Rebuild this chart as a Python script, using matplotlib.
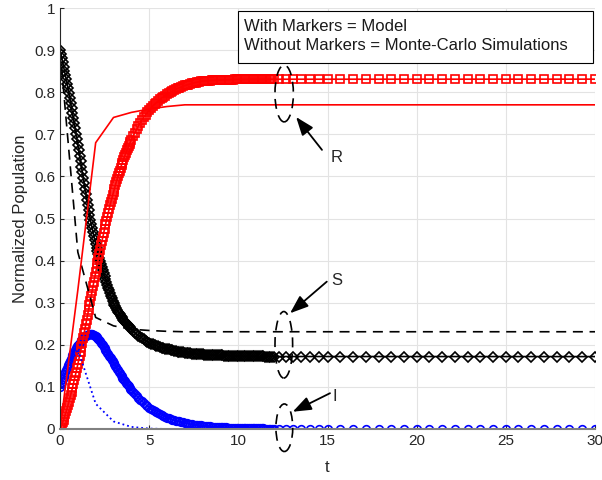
import numpy as np
import matplotlib.pyplot as plt
from matplotlib.patches import Ellipse, Rectangle

plt.rcParams['font.family'] = ['Liberation Sans', 'DejaVu Sans']

# model (solver output): small steps early, larger ones once it settles
t_a = [0.0, 0.05, 0.1, 0.15, 0.2, 0.25, 0.3, 0.35, 0.4, 0.45,
       0.5, 0.55, 0.6, 0.65, 0.7, 0.75, 0.8, 0.85, 0.9, 0.95,
       1.0, 1.05, 1.1, 1.15, 1.2, 1.25, 1.3, 1.35, 1.4, 1.45,
       1.5, 1.55, 1.6, 1.65, 1.7, 1.75, 1.8, 1.85, 1.9, 1.95,
       2.0, 2.05, 2.1, 2.15, 2.2, 2.25, 2.3, 2.35, 2.4, 2.45,
       2.5, 2.55, 2.6, 2.65, 2.7, 2.75, 2.8, 2.85, 2.9, 2.95,
       3.0, 3.05, 3.1, 3.15, 3.2, 3.25, 3.3, 3.35, 3.4, 3.45,
       3.5, 3.55, 3.6, 3.65, 3.7, 3.75, 3.8, 3.85, 3.9, 3.95,
       4.0]
t_b = [4.1, 4.2, 4.3, 4.4, 4.5, 4.6, 4.7, 4.8, 4.9, 5.0,
       5.1, 5.2, 5.3, 5.4, 5.5, 5.6, 5.7, 5.8, 5.9, 6.0,
       6.1, 6.2, 6.3, 6.4, 6.5, 6.6, 6.7, 6.8, 6.9, 7.0,
       7.1, 7.2, 7.3, 7.4, 7.5, 7.6, 7.7, 7.8, 7.9, 8.0,
       8.1, 8.2, 8.3, 8.4, 8.5, 8.6, 8.7, 8.8, 8.9, 9.0,
       9.1, 9.2, 9.3, 9.4, 9.5, 9.6, 9.7, 9.8, 9.9, 10.0,
       10.1, 10.2, 10.3, 10.4, 10.5, 10.6, 10.7, 10.8, 10.9, 11.0,
       11.1, 11.2, 11.3, 11.4, 11.5, 11.6, 11.7, 11.8, 11.9, 12.0]
t_c = [12.3, 12.65, 13.05, 13.5, 14.0, 14.5, 15.0, 15.71, 16.43, 17.14,
       17.86, 18.57, 19.29, 20.0, 20.71, 21.43, 22.14, 22.86, 23.57, 24.29,
       25.0, 25.71, 26.43, 27.14, 27.86, 28.57, 29.29, 30.0]

s_a = [0.900, 0.891, 0.881, 0.871, 0.861, 0.851, 0.841, 0.831, 0.820, 0.809,
       0.797, 0.786, 0.774, 0.762, 0.750, 0.738, 0.726, 0.714, 0.701, 0.688,
       0.675, 0.662, 0.649, 0.636, 0.623, 0.610, 0.597, 0.584, 0.571, 0.558,
       0.545, 0.533, 0.521, 0.509, 0.497, 0.487, 0.477, 0.467, 0.458, 0.449,
       0.440, 0.431, 0.423, 0.415, 0.407, 0.399, 0.391, 0.384, 0.377, 0.370,
       0.363, 0.356, 0.349, 0.342, 0.336, 0.329, 0.323, 0.317, 0.311, 0.305,
       0.300, 0.295, 0.291, 0.287, 0.283, 0.279, 0.276, 0.272, 0.269, 0.266,
       0.263, 0.260, 0.257, 0.254, 0.252, 0.249, 0.247, 0.244, 0.242, 0.239,
       0.237]
s_b = [0.233, 0.229, 0.225, 0.222, 0.219, 0.216, 0.213, 0.210, 0.207, 0.205,
       0.203, 0.201, 0.1995, 0.198, 0.1965, 0.195, 0.1935, 0.192, 0.191, 0.190,
       0.189, 0.188, 0.187, 0.186, 0.185, 0.184, 0.1835, 0.183, 0.182, 0.181,
       0.1805, 0.180, 0.1795, 0.179, 0.1785, 0.178, 0.1778, 0.1775, 0.1772, 0.177,
       0.1767, 0.1765, 0.1762, 0.176, 0.1757, 0.1755, 0.1752, 0.175, 0.1749, 0.1747,
       0.1746, 0.1745, 0.1743, 0.1742, 0.1741, 0.174, 0.1738, 0.1735, 0.1733, 0.173,
       0.1729, 0.1729, 0.1728, 0.1728, 0.1727, 0.1727, 0.1726, 0.1726, 0.1725, 0.1725,
       0.1724, 0.1724, 0.1723, 0.1723, 0.1722, 0.1722, 0.1722, 0.1721, 0.1721, 0.1721]
s_c = [0.172] * 28

i_a = [0.100, 0.106, 0.112, 0.118, 0.124, 0.130, 0.135, 0.141, 0.146, 0.151,
       0.156, 0.161, 0.166, 0.171, 0.175, 0.180, 0.184, 0.188, 0.192, 0.196,
       0.199, 0.202, 0.205, 0.208, 0.211, 0.2135, 0.216, 0.218, 0.220, 0.2215,
       0.223, 0.224, 0.225, 0.2255, 0.226, 0.2255, 0.225, 0.224, 0.223, 0.2215,
       0.220, 0.218, 0.216, 0.2135, 0.211, 0.208, 0.205, 0.202, 0.199, 0.1955,
       0.192, 0.1885, 0.185, 0.1815, 0.178, 0.1745, 0.171, 0.1675, 0.164, 0.1605,
       0.157, 0.1535, 0.150, 0.1465, 0.143, 0.1395, 0.136, 0.1325, 0.129, 0.1255,
       0.122, 0.119, 0.116, 0.113, 0.110, 0.107, 0.104, 0.101, 0.098, 0.0955,
       0.093]
i_b = [0.088, 0.083, 0.0785, 0.074, 0.070, 0.066, 0.062, 0.058, 0.0545, 0.051,
       0.048, 0.045, 0.0425, 0.040, 0.0375, 0.035, 0.033, 0.031, 0.029, 0.027,
       0.0255, 0.024, 0.0225, 0.021, 0.020, 0.019, 0.018, 0.017, 0.016, 0.015,
       0.014, 0.013, 0.012, 0.011, 0.0105, 0.010, 0.0095, 0.009, 0.0085, 0.008,
       0.0075, 0.007, 0.0065, 0.006, 0.0057, 0.0055, 0.0052, 0.005, 0.0047, 0.0045,
       0.0042, 0.004, 0.0037, 0.0035, 0.0032, 0.003, 0.0029, 0.0027, 0.0026, 0.0025,
       0.0024, 0.0022, 0.0021, 0.002, 0.0019, 0.0018, 0.0017, 0.0016, 0.0015, 0.0015,
       0.0014, 0.0013, 0.0012, 0.0012, 0.0011, 0.001, 0.001, 0.0009, 0.0009, 0.0008]
i_c = [0.0007, 0.0006, 0.0005, 0.0004, 0.0003, 0.0003, 0.0002, 0.0002, 0.0001, 0.0001,
       0.0, 0.0, 0.0, 0.0, 0.0, 0.0, 0.0, 0.0, 0.0, 0.0,
       0.0, 0.0, 0.0, 0.0, 0.0, 0.0, 0.0, 0.0]

r_a = [0.000, 0.005, 0.011, 0.016, 0.022, 0.028, 0.035, 0.042, 0.049, 0.057,
       0.065, 0.073, 0.081, 0.089, 0.098, 0.107, 0.116, 0.125, 0.134, 0.144,
       0.154, 0.164, 0.174, 0.184, 0.195, 0.205, 0.216, 0.227, 0.238, 0.249,
       0.260, 0.271, 0.283, 0.294, 0.305, 0.316, 0.328, 0.339, 0.350, 0.361,
       0.372, 0.383, 0.394, 0.405, 0.416, 0.426, 0.436, 0.446, 0.457, 0.466,
       0.476, 0.486, 0.495, 0.504, 0.513, 0.522, 0.531, 0.539, 0.547, 0.555,
       0.563, 0.571, 0.579, 0.586, 0.593, 0.600, 0.607, 0.614, 0.621, 0.627,
       0.633, 0.639, 0.645, 0.651, 0.656, 0.662, 0.667, 0.672, 0.677, 0.682,
       0.687]
r_b = [0.696, 0.704, 0.712, 0.720, 0.727, 0.734, 0.740, 0.746, 0.752, 0.757,
       0.762, 0.767, 0.771, 0.775, 0.779, 0.783, 0.786, 0.789, 0.792, 0.795,
       0.7975, 0.800, 0.8025, 0.805, 0.807, 0.809, 0.8105, 0.812, 0.814, 0.816,
       0.817, 0.818, 0.8195, 0.821, 0.822, 0.823, 0.824, 0.825, 0.8258, 0.8265,
       0.8268, 0.827, 0.8273, 0.8275, 0.8278, 0.828, 0.8283, 0.8285, 0.8287, 0.8289,
       0.8291, 0.8293, 0.8295, 0.8297, 0.8298, 0.830, 0.8301, 0.8302, 0.8303, 0.8304,
       0.8305, 0.8305, 0.8306, 0.8307, 0.8307, 0.8308, 0.8308, 0.8309, 0.8309, 0.8309,
       0.831, 0.831, 0.831, 0.831, 0.831, 0.831, 0.831, 0.831, 0.831, 0.831]
r_c = [0.831] * 28

t_model = t_a + t_b + t_c
s_model = s_a + s_b + s_c
i_model = i_a + i_b + i_c
r_model = r_a + r_b + r_c

# Monte-Carlo averages, one value per time unit
t_mc = list(range(31))
s_mc = [0.9, 0.42, 0.265, 0.245, 0.237, 0.234, 0.232, 0.231, 0.231, 0.231,
        0.231, 0.231, 0.231, 0.231, 0.231, 0.231, 0.231, 0.231, 0.231, 0.231,
        0.231, 0.231, 0.231, 0.231, 0.231, 0.231, 0.231, 0.231, 0.231, 0.231, 0.231]
i_mc = [0.1, 0.19, 0.06, 0.018, 0.005, 0.001, 0.0, 0.0, 0.0, 0.0,
        0.0, 0.0, 0.0, 0.0, 0.0, 0.0, 0.0, 0.0, 0.0, 0.0,
        0.0, 0.0, 0.0, 0.0, 0.0, 0.0, 0.0, 0.0, 0.0, 0.0, 0.0]
r_mc = [0.0, 0.33, 0.68, 0.74, 0.752, 0.76, 0.766, 0.77, 0.77, 0.77,
        0.77, 0.77, 0.77, 0.77, 0.77, 0.77, 0.77, 0.77, 0.77, 0.77,
        0.77, 0.77, 0.77, 0.77, 0.77, 0.77, 0.77, 0.77, 0.77, 0.77, 0.77]

fig = plt.figure(figsize=(6.02, 4.80), dpi=100)
ax = fig.add_axes([60/602, 51/480, 535/602, 421/480])

ax.plot(t_model, s_model, '-kD', lw=1.2, ms=4.8, mfc='none', mew=1.2)
ax.plot(t_model, i_model, '-o', color='b', lw=1.2, ms=5.5, mfc='none', mew=1.2)
ax.plot(t_model, r_model, '-s', color='r', lw=1.2, ms=5.5, mfc='none', mew=1.2)

ax.plot(t_mc, s_mc, '--k', lw=1.2, dashes=(6, 4))
ax.plot(t_mc, i_mc, ':', color='b', lw=1.3)
ax.plot(t_mc, r_mc, '-', color='r', lw=1.2)

ax.set_xlim(0, 30)
ax.set_ylim(0, 1)
ax.set_xticks([0, 5, 10, 15, 20, 25, 30])
ax.set_yticks([0, 0.1, 0.2, 0.3, 0.4, 0.5, 0.6, 0.7, 0.8, 0.9, 1])
ax.set_yticklabels(['0', '0.1', '0.2', '0.3', '0.4', '0.5', '0.6', '0.7', '0.8', '0.9', '1'])
ax.tick_params(direction='in', length=3, colors='#262626', labelsize=11)
ax.grid(True, color='#e3e3e3', lw=0.8)
ax.set_axisbelow(True)
ax.spines['top'].set_visible(False)
ax.spines['right'].set_visible(False)
ax.spines['left'].set_color('#262626')
ax.spines['bottom'].set_color('#808080')
ax.spines['bottom'].set_linewidth(1.5)

ax.set_xlabel('t', fontsize=12, color='#262626', labelpad=9)
ax.set_ylabel('Normalized Population', fontsize=12, color='#262626', labelpad=4)

# ellipses marking the steady state of each group
for cx, cy, w, h in [(12.57, 0.797, 1.03, 0.135), (12.55, 0.200, 0.99, 0.158), (12.58, 0.003, 0.94, 0.113)]:
    ax.add_patch(Ellipse((cx, cy), w, h, fill=False, ec='k', lw=1.2,
                         ls=(0, (6, 4)), clip_on=False, zorder=4))

arrow = dict(arrowstyle='-|>,head_length=0.8,head_width=0.3', color='k', lw=1.3,
             mutation_scale=14, shrinkA=0, shrinkB=0)
ax.annotate('', xy=(13.24, 0.741), xytext=(14.69, 0.663), arrowprops=arrow)
ax.annotate('', xy=(12.9, 0.275), xytext=(14.96, 0.35), arrowprops=arrow)
ax.annotate('', xy=(13.05, 0.041), xytext=(15.14, 0.085), arrowprops=arrow)
ax.text(15.2, 0.646, 'R', fontsize=12, color='#262626', va='center')
ax.text(15.2, 0.352, 'S', fontsize=12, color='#262626', va='center')
ax.text(15.3, 0.078, 'I', fontsize=12, color='#262626', va='center')

ax.add_patch(Rectangle((9.98, 0.869), 19.91, 0.124, fc='white', ec='k', lw=0.8,
                       clip_on=False, zorder=5))
ax.text(10.3, 0.955, 'With Markers = Model', fontsize=12, color='#1a1a1a', va='center', zorder=6)
ax.text(10.3, 0.910, 'Without Markers = Monte-Carlo Simulations', fontsize=12, color='#1a1a1a',
        va='center', zorder=6)

fig.savefig('out.png', dpi=100)
